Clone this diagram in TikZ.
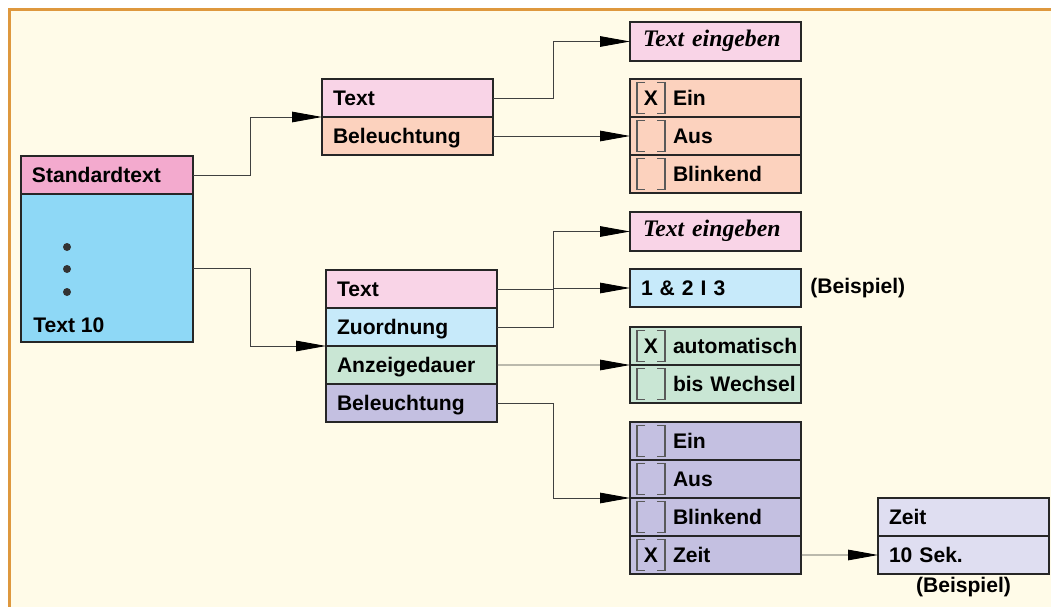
\documentclass[tikz,border=0pt]{standalone}
\usepackage{fontspec}
\setmainfont{Liberation Serif}
\setsansfont{Liberation Sans}
\usetikzlibrary{arrows.meta,positioning}

\definecolor{bgcream}{RGB}{255,251,232}
\definecolor{frameorange}{RGB}{222,152,62}
\definecolor{stdpink}{RGB}{243,170,206}
\definecolor{stdblue}{RGB}{142,216,246}
\definecolor{txtpink}{RGB}{249,212,231}
\definecolor{belpeach}{RGB}{252,210,190}
\definecolor{zuocyan}{RGB}{199,234,250}
\definecolor{anzgreen}{RGB}{201,230,212}
\definecolor{bellila}{RGB}{196,192,225}
\definecolor{zeitlila}{RGB}{223,222,241}

\tikzset{
  rowbox/.style={draw=black!85, line width=0.8pt, anchor=north west, outer sep=0pt,
    minimum height=0.76cm, inner ysep=0pt, inner xsep=0.22cm,
    text width=2.98cm, align=left, text height=1.9ex, text depth=0pt},
  optbox/.style={rowbox, inner xsep=0pt, text width=3.42cm,
    execute at begin node={\hspace*{0.86cm}}},
  inbox/.style={rowbox, minimum height=0.78cm, inner xsep=0.26cm, text width=2.9cm,
    font=\rmfamily\bfseries\itshape\fontsize{13.5}{15}\selectfont, text height=1.3ex},
  plain/.style={inner sep=0pt, text height=1.38ex, text depth=0pt},
  conn/.style={draw=black!75, line width=0.5pt, -{Triangle[length=17pt,width=6pt,color=black]}},
  bracket/.style={draw=black!65, line width=0.6pt},
}

% checkbox in front of an option row
\newcommand{\chkbox}[2]{%
  \draw[bracket] ([shift={(15,-15.5)}]#1.west) -- ++(-8,0) -- ++(0,31) -- ++(8,0);
  \draw[bracket] ([shift={(27,-15.5)}]#1.west) -- ++(8,0) -- ++(0,31) -- ++(-8,0);
  \node[plain] at ([shift={(21,1.5)}]#1.west) {#2};
}

\begin{document}
\begin{tikzpicture}[x=0.02cm, y=-0.02cm, font=\sffamily\bfseries\fontsize{12}{14}\selectfont]
  \useasboundingbox (0,0) rectangle (1051,606);
  \fill[white] (0,0) rectangle (1051,606);
  \draw[draw=frameorange, fill=bgcream, line width=0.06cm] (9.5,9.5) rectangle (1080,640);

  % left block
  \node[rowbox, fill=stdpink, text width=3.0cm] at (21,156) (std) {Standardtext};
  \node[rowbox, fill=stdblue, text width=3.0cm, minimum height=2.96cm] at (std.south west) (stdbody) {};
  \foreach \y in {247,269,292} \fill[black!80] (67,\y) circle (0.08cm);
  \node[plain, anchor=west] at (33,327) (t10) {Text 10};

  % upper menu
  \node[rowbox, fill=txtpink] at (322,79) (txtA) {Text};
  \node[rowbox, fill=belpeach] at (txtA.south west) (belA) {Beleuchtung};

  \node[inbox, fill=txtpink] at (630,22) (inA) {Text eingeben};
  \node[optbox, fill=belpeach] at (630,79) (ein) {Ein};
  \node[optbox, fill=belpeach] at (ein.south west) (aus) {Aus};
  \node[optbox, fill=belpeach] at (aus.south west) (bli) {Blinkend};

  % lower menu
  \node[rowbox, fill=txtpink] at (326,270) (txtB) {Text};
  \node[rowbox, fill=zuocyan] at (txtB.south west) (zuo) {Zuordnung};
  \node[rowbox, fill=anzgreen] at (zuo.south west) (anz) {Anzeigedauer};
  \node[rowbox, fill=bellila] at (anz.south west) (belB) {Beleuchtung};

  \node[inbox, fill=txtpink] at (630,212) (inB) {Text eingeben};
  \node[rowbox, fill=zuocyan] at (630,269) (bsp) {1 \& 2 I 3};
  \node[plain, right=0.18cm of bsp] (bspA) {(Beispiel)};

  \node[optbox, fill=anzgreen] at (630,327) (auto) {automatisch};
  \node[optbox, fill=anzgreen] at (auto.south west) (wech) {bis Wechsel};

  \node[optbox, fill=bellila] at (630,422) (ein2) {Ein};
  \node[optbox, fill=bellila] at (ein2.south west) (aus2) {Aus};
  \node[optbox, fill=bellila] at (aus2.south west) (bli2) {Blinkend};
  \node[optbox, fill=bellila] at (bli2.south west) (zeit2) {Zeit};

  \node[rowbox, fill=zeitlila] at (878,498) (zeitT) {Zeit};
  \node[rowbox, fill=zeitlila] at (zeitT.south west) (sek) {10 Sek.};
  \node[plain] at ([yshift=-0.26cm]sek.south) (bspB) {(Beispiel)};

  \foreach \n/\m in {ein/X, aus/, bli/, auto/X, wech/, ein2/, aus2/, bli2/, zeit2/X}
    \chkbox{\n}{\m};

  % connectors
  \draw[conn] (std.east) -- ++(57,0) |- (txtA.south west);
  \draw[conn] (stdbody.east) -- ++(57,0) |- (zuo.south west);
  \draw[conn] (txtA.east) -- ++(60,0) |- (inA.west);
  \draw[conn] (belA.east) -- (aus.west);
  \draw[conn] (txtB.east) -- ++(56,0) |- (inB.west);
  \draw[conn] (zuo.east) -- ++(56,0) |- (bsp.west);
  \draw[conn] (anz.east) -- (auto.south west);
  \draw[conn] (belB.east) -- ++(56,0) |- (aus2.south west);
  \draw[conn] (zeit2.east) -- (sek.west);
\end{tikzpicture}
\end{document}
